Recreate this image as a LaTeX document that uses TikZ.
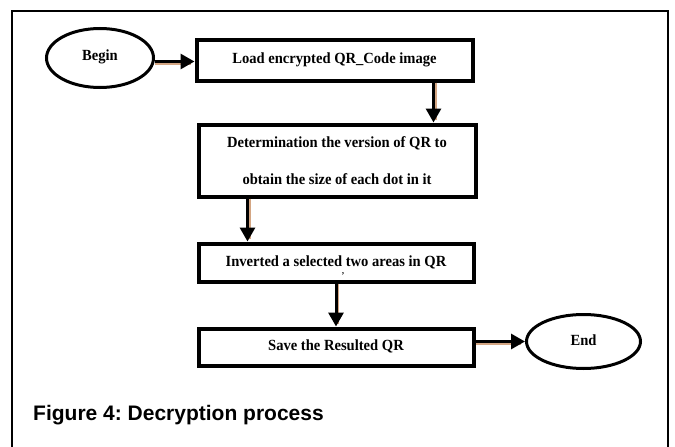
\documentclass[tikz,border=0pt]{standalone}
\usepackage{fontspec}
\usetikzlibrary{shapes.geometric,arrows.meta,calc}
\newfontfamily\boxfont{Liberation Serif}[FakeStretch=0.94]
\newfontfamily\capfont{Liberation Sans}
\definecolor{shadowtan}{HTML}{D4A683}
\tikzset{
  stepbox/.style={draw=black, line width=4pt, rectangle, inner sep=0pt,
    font=\boxfont\bfseries\fontsize{15.5}{37}\selectfont, align=center},
  oneline/.style={text height=10pt, text depth=3pt},
  terminal/.style={draw=black, line width=3pt, ellipse, inner sep=0pt,
    font=\boxfont\bfseries\fontsize{15.5}{18}\selectfont},
  flowline/.style={draw=black, line width=3pt, -{Triangle[length=14pt,width=15pt]}},
  flowshadow/.style={draw=shadowtan, line width=2.5pt, shorten >=2pt},
}
\begin{document}
\frenchspacing
\begin{tikzpicture}[x=1pt,y=-1pt]
\useasboundingbox (0,0) rectangle (675,447);
\fill[white] (0,0) rectangle (675,447);
% outer frame
\draw[line width=1.6pt] (12,447) -- (12,11) -- (668,11) -- (668,447);

% nodes
\node[terminal, minimum width=107pt, minimum height=59pt] (begin) at (100,58) {\raisebox{5pt}{Begin}};
\node[stepbox, oneline, minimum width=276pt, minimum height=41pt] (box1) at (334.5,60) {Load encrypted QR\_Code image};
\node[stepbox, minimum width=277pt, minimum height=72pt] (box2) at (337,160.5) {Determination the version of QR to\\obtain the size of each dot in it};
\node[stepbox, oneline, minimum width=275pt, minimum height=38pt] (box3) at (336,262.5) {Inverted a selected two areas in QR};
\node[font=\boxfont\bfseries\fontsize{9}{9}\selectfont, inner sep=0pt] (tick) at (343,276) {’};
\node[stepbox, oneline, minimum width=275pt, minimum height=37pt] (box4) at (336,347) {Save the Resulted QR};
\node[terminal, minimum width=114pt, minimum height=54pt] (end) at (583.5,341.5) {\raisebox{3pt}{End}};

% connector coordinates
\coordinate (a1s) at ($(begin.east)+(0,3.5)$);
\coordinate (a1e) at (a1s -| box1.west);
\coordinate (a2s) at ($(box1.south east)+(-41,0)$);
\coordinate (a2e) at (a2s |- box2.north);
\coordinate (a3s) at ($(box2.south west)+(51,0)$);
\coordinate (a3e) at (a3s |- box3.north);
\coordinate (a5s) at (box4.east |- end.west);

% shadows
\draw[flowshadow] ($(a1s)+(0,2.2)$) -- ($(a1e)+(-2,2.2)$);
\draw[flowshadow] ($(a2s)+(2,0)$) -- ($(a2e)+(2,-1)$);
\draw[flowshadow] ($(a3s)+(2,0)$) -- ($(a3e)+(2,-1)$);
\draw[flowshadow] ($(box3.south)+(2,0)$) -- ($(box4.north)+(2,-1)$);
\draw[flowshadow] ($(a5s)+(0,2.2)$) -- ($(end.west)+(-2,2.2)$);

% connectors
\draw[flowline] (a1s) -- (a1e);
\draw[flowline] (a2s) -- (a2e);
\draw[flowline] (a3s) -- (a3e);
\draw[flowline] (box3.south) -- (box4.north);
\draw[flowline] (a5s) -- (end.west);

% caption
\node[anchor=base west, font=\capfont\bfseries\fontsize{21}{24}\selectfont, inner sep=0pt] (caption) at (33,420) {Figure 4: Decryption process};
\end{tikzpicture}
\end{document}
